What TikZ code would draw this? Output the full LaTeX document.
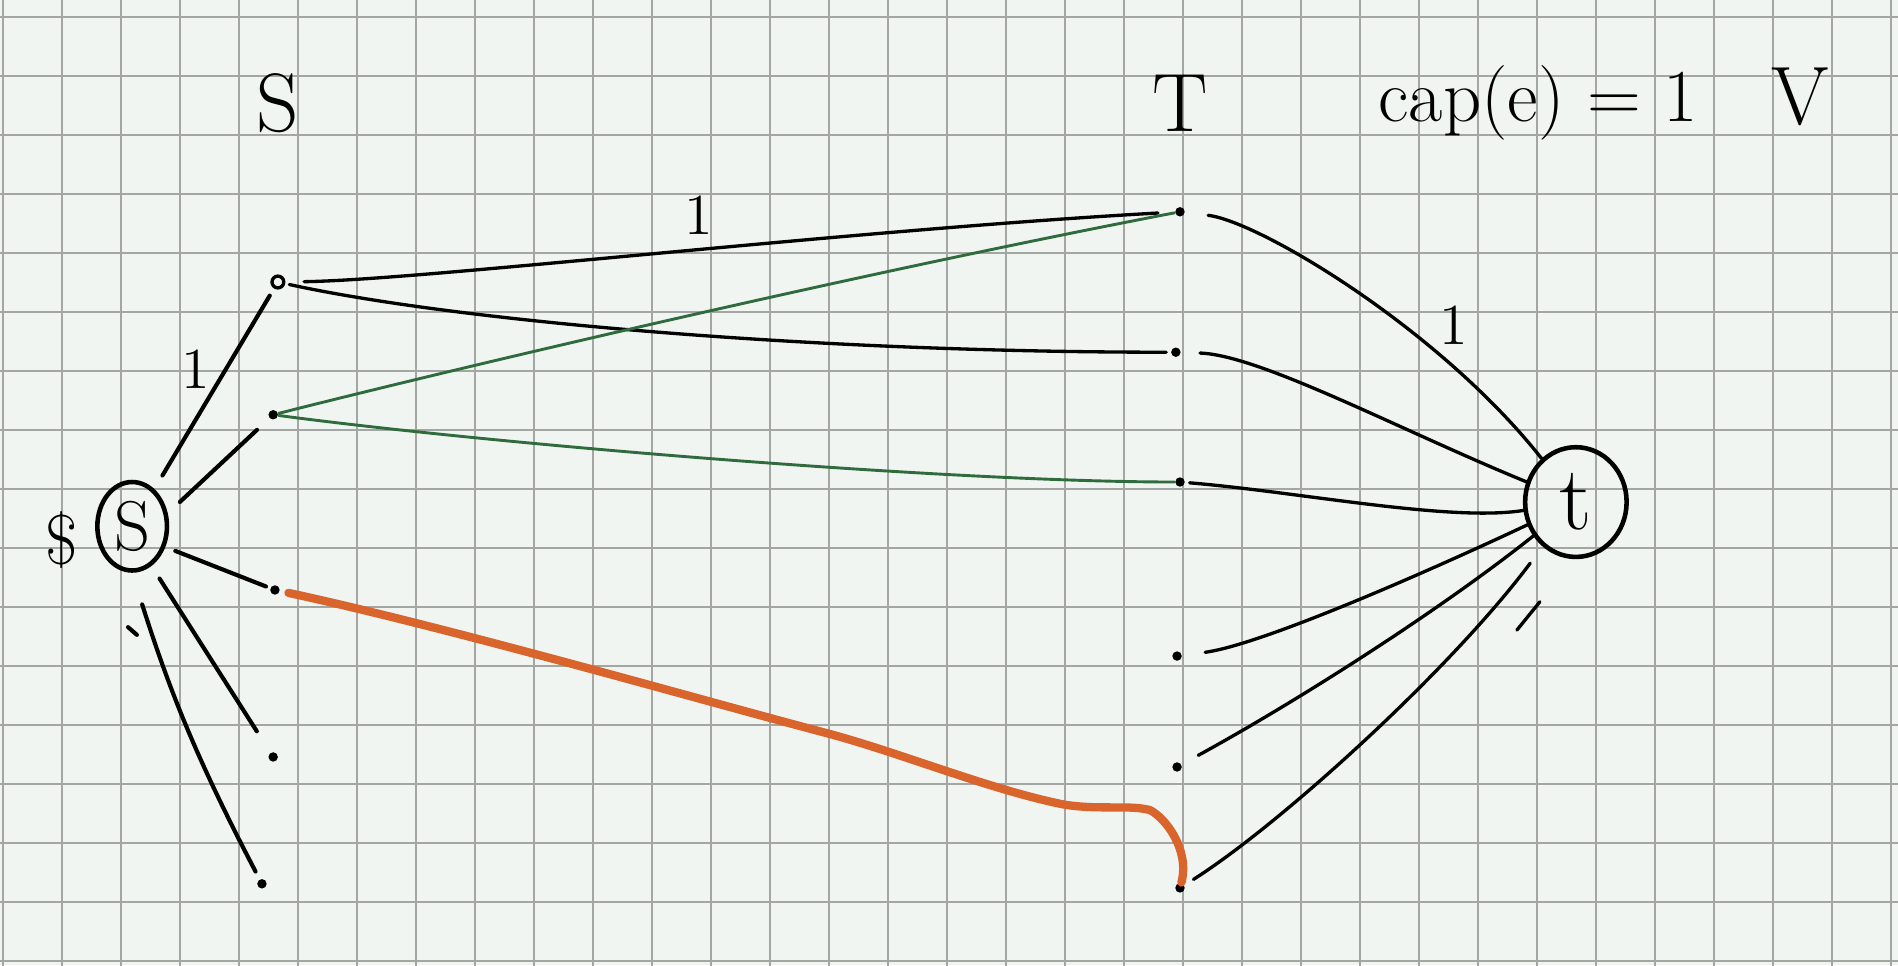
\documentclass[tikz,border=0pt]{standalone}
\usepackage{fontspec}
\usepackage{tikz}
\usetikzlibrary{shapes.geometric}

\definecolor{paper}{HTML}{F0F5F1}
\definecolor{gridgray}{HTML}{A3A6A3}
\definecolor{pengreen}{HTML}{2F6B3C}
\definecolor{penorange}{HTML}{D9652C}

\begin{document}
\begin{tikzpicture}[x=0.5cm,y=0.5cm]
    \tikzstyle{terminal node}=[ellipse,draw,line width=1.1pt,inner sep=0]
    \tikzstyle{solid node}=[circle,fill=black,inner sep=0,minimum size=0.08cm]
    \tikzstyle{hollow node}=[circle,draw,line width=.8pt,inner sep=0,minimum size=0.1cm]
    \tikzstyle{ink}=[line width=1pt,line cap=round]
    \tikzstyle{thin ink}=[line width=.8pt,line cap=round]
    \tikzstyle{green ink}=[line width=.7pt,pengreen,line cap=round]
    \tikzstyle{orange ink}=[line width=2pt,penorange,line cap=round,line join=round]
    \tikzstyle{hand text}=[font=\fontsize{20}{24}\selectfont]
    \tikzstyle{weight label}=[font=\fontsize{14}{17}\selectfont]

% paper
\useasboundingbox[fill=paper] (0,0) rectangle (32.17,-16.36);
\begin{scope}
    \clip (0,0) rectangle (32.17,-16.36);
    \draw[gridgray,line width=.4pt,step=1,shift={(0.05,-0.29)}] (-1,-17) grid (33,1);
\end{scope}

    \node(s)[terminal node,minimum width=0.59cm,minimum height=0.75cm,font=\fontsize{17}{20}\selectfont] at (2.24,-8.92){S};
    \node(t)[terminal node,minimum width=0.86cm,minimum height=0.93cm,font=\fontsize{22}{26}\selectfont] at (26.71,-8.51){t};
    \node(dollar)[font=\fontsize{17}{20}\selectfont] at (1.05,-9.15){\$};

    \node(S1)[hollow node] at (4.71,-4.78){};
    \node(S2)[solid node] at (4.63,-7.03){};
    \node(S3)[solid node] at (4.66,-10.00){};
    \node(S4)[solid node] at (4.63,-12.83){};
    \node(S5)[solid node] at (4.44,-14.98){};

    \node(T1)[solid node] at (20.00,-3.59){};
    \node(T2)[solid node] at (19.93,-5.97){};
    \node(T3)[solid node] at (20.00,-8.17){};
    \node(T4)[solid node] at (19.95,-11.12){};
    \node(T5)[solid node] at (19.95,-13.00){};
    \node(T6)[solid node] at (20.00,-15.05){};

    \node(Slabel)[hand text] at (4.71,-1.75){S};
    \node(Tlabel)[hand text] at (20.00,-1.75){T};
    \node(caplabel)[font=\fontsize{18}{22}\selectfont] at (26.07,-1.75){cap(e) = 1};
    \node(check)[hand text] at (30.51,-1.64){V};

% out of s
\draw[ink,shorten <=3.8pt,shorten >=2pt] (s) -- node(w1)[pos=.6,left,weight label]{1} (S1);
\draw[ink,shorten <=4pt,shorten >=4pt] (s.20) -- (S2);
\draw[ink,shorten <=2.6pt,shorten >=1pt] (s.-32) -- (S3);
\draw[ink,shorten <=3.6pt,shorten >=6pt] (s.-64) -- (S4);
\draw[ink,shorten <=8pt,shorten >=2pt] (s.south) to[bend right=5] (S5);
\draw[ink] (2.17,-10.63) -- (2.32,-10.76);

% S to T
\draw[thin ink,shorten <=4.5pt,shorten >=4pt] (S1) .. controls (7.12,-4.75) and (14.41,-3.90) .. (T1) node(w2)[pos=.54,above,weight label]{1};
\draw[thin ink,shorten <=1pt,shorten >=1pt] (S1) .. controls (7.63,-5.42) and (13.56,-5.97) .. (T2);
\draw[green ink] (S2) .. controls (7.63,-6.27) and (14.41,-4.66) .. (T1);
\draw[green ink] (S2) .. controls (8.47,-7.54) and (16.10,-8.17) .. (T3);
% augmenting path
\draw[orange ink,shorten <=2pt] (S3) .. controls (7.63,-10.64) and (11.86,-11.86) .. (13.95,-12.41)
    .. controls (15.25,-12.75) and (16.78,-13.39) .. (18.05,-13.64)
    .. controls (18.64,-13.73) and (19.15,-13.64) .. (19.49,-13.73)
    .. controls (19.75,-13.86) and (20.17,-14.40) .. (T6);

% into t
\draw[thin ink,shorten <=5.5pt] (T1) .. controls (21.36,-3.76) and (24.41,-5.59) .. (t) node(w3)[pos=.7,above right,inner sep=1pt,weight label]{1};
\draw[thin ink,shorten <=4.5pt] (T2) .. controls (21.36,-6.02) and (23.73,-7.29) .. (t);
\draw[thin ink,shorten <=1pt] (T3) .. controls (22.03,-8.34) and (24.58,-8.85) .. (t);
\draw[thin ink,shorten <=5.5pt] (T4) .. controls (21.36,-10.93) and (24.07,-9.75) .. (t);
\draw[thin ink,shorten <=4.5pt] (T5) .. controls (22.03,-11.86) and (24.41,-10.34) .. (t);
\draw[thin ink,shorten <=2.5pt,shorten >=5pt] (T6) .. controls (21.69,-13.98) and (24.58,-11.36) .. (t);
\draw[thin ink] (25.71,-10.68) -- (26.10,-10.20);
\end{tikzpicture}
\end{document}
